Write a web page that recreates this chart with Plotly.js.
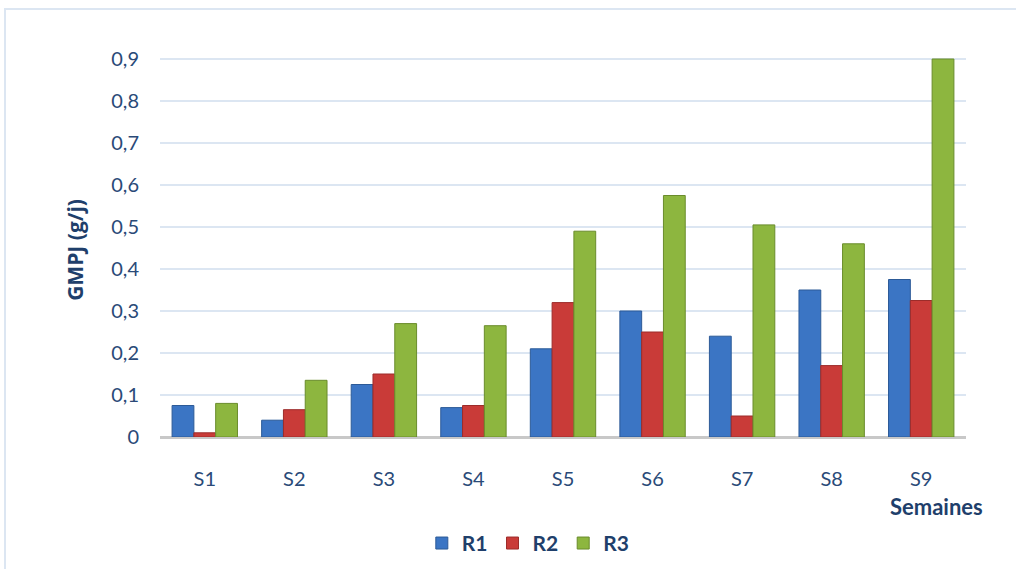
<!DOCTYPE html>
<html><head><meta charset="utf-8">
<script src="https://cdn.plot.ly/plotly-3.0.1.min.js"></script>
<style>
html,body{margin:0;padding:0;background:#fff;}
#frame{position:absolute;left:4px;top:8px;width:1030px;height:580px;border:2px solid #dce6f2;box-sizing:border-box;}
#chart{position:absolute;left:0;top:0;width:1016px;height:569px;}
</style></head>
<body>
<div id="frame"></div>
<div id="chart"></div>
<script>
const categories = ['S1','S2','S3','S4','S5','S6','S7','S8','S9'];
const R1 = [0.075,0.04,0.125,0.07,0.21,0.30,0.24,0.35,0.375];
const R2 = [0.01,0.065,0.15,0.075,0.32,0.25,0.05,0.17,0.325];
const R3 = [0.08,0.135,0.27,0.265,0.49,0.575,0.505,0.46,0.9];
const tickVals = [0,0.1,0.2,0.3,0.4,0.5,0.6,0.7,0.8,0.9];
const tickText = ['0','0,1','0,2','0,3','0,4','0,5','0,6','0,7','0,8','0,9'];
const seriesNames = ['R1','R2','R3'];
const colors = ['#3b75c4','#c93b38','#8db63f'];
const lineColors = ['#2c5a97','#9c2c2a','#6a8c2c'];

const data = [R1,R2,R3].map((vals,i)=>({
  type:'bar', x:categories, y:vals, name:seriesNames[i],
  marker:{color:colors[i], line:{color:lineColors[i], width:1}},
  hoverinfo:'x+y'
}));

const font = 'Lato, "Open Sans", sans-serif';
const layout = {
  width:1016, height:569,
  paper_bgcolor:'rgba(0,0,0,0)', plot_bgcolor:'rgba(0,0,0,0)',
  margin:{l:160,r:50,t:38,b:132},
  barmode:'group', bargap:0.27, bargroupgap:0,
  font:{family:font, color:'#1f3f6b'},
  xaxis:{type:'category', showgrid:false, showline:false, ticks:'',
    tickfont:{size:20, color:'#2a4a78'}, ticklabelstandoff:28, zeroline:false},
  yaxis:{range:[0,0.95], tickvals:tickVals, ticktext:tickText,
    tickfont:{size:20, color:'#2a4a78'}, ticklabelstandoff:20,
    showgrid:true, gridcolor:'#dce6f2', gridwidth:2, zeroline:true,
    zerolinecolor:'#c8c8c8', zerolinewidth:3, showline:false, ticks:''},
  showlegend:true,
  legend:{orientation:'h', xref:'container', yref:'container', x:0.52, xanchor:'center',
    y:0.045, yanchor:'middle', font:{size:21, color:'#1f3f6b', weight:'bold'},
    itemwidth:30, traceorder:'normal'},
  annotations:[
    {xref:'paper', yref:'paper', x:-0.105, y:0.47, xanchor:'center', yanchor:'middle',
     text:'<b>GMPJ (g/j)</b>', textangle:-90, showarrow:false,
     font:{size:21, color:'#1f3f6b', family:'"Open Sans", sans-serif'}},
    {xref:'paper', yref:'paper', x:1.024, y:-0.173, xanchor:'right', yanchor:'middle',
     text:'<b>Semaines</b>', showarrow:false, font:{size:22, color:'#1f3f6b'}}
  ]
};
Plotly.newPlot('chart', data, layout, {displayModeBar:false, staticPlot:true});
</script>
</body></html>
